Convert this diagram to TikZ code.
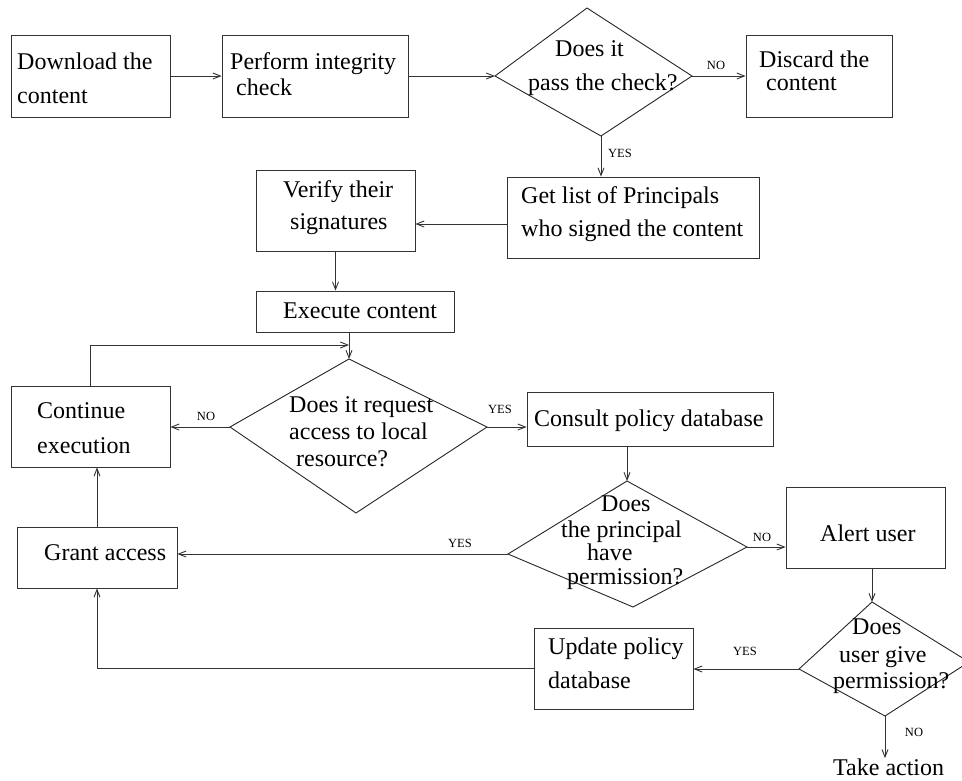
\documentclass[tikz,border=0pt]{standalone}
\usepackage{fontspec}
\setmainfont{Liberation Serif}
\usetikzlibrary{arrows.meta}
\tikzset{
  box/.style={draw=black!80, line width=0.9pt, rectangle, inner sep=0pt},
  txt/.style={anchor=base west, inner sep=0pt, font=\fontsize{24}{28}\selectfont},
  lbl/.style={inner sep=0pt, font=\fontsize{12.5}{14}\selectfont},
  arr/.style={draw=black!80, line width=0.9pt, -{Straight Barb[length=7.5pt,width=6pt]}},
  dia/.style={draw=black!85, line width=0.9pt, line join=miter}
}
\begin{document}
\begin{tikzpicture}[x=1pt,y=-1pt]
\useasboundingbox (0,0) rectangle (962,780);
% boxes
\node[box, minimum width=159pt, minimum height=82pt] (b1) at (90.5,76) {};
\node[box, minimum width=186pt, minimum height=82pt] (b2) at (315,76) {};
\node[box, minimum width=146pt, minimum height=82pt] (disc) at (819,76) {};
\node[box, minimum width=252pt, minimum height=81pt] (get) at (633,217.5) {};
\node[box, minimum width=159pt, minimum height=81pt] (ver) at (335.5,210.5) {};
\node[box, minimum width=198pt, minimum height=41pt] (exe) at (355,311.5) {};
\node[box, minimum width=159pt, minimum height=81pt] (cont) at (90.5,426.5) {};
\node[box, minimum width=246pt, minimum height=54pt] (cons) at (650,419) {};
\node[box, minimum width=159pt, minimum height=81pt] (alert) at (865.5,527.5) {};
\node[box, minimum width=159pt, minimum height=81pt] (upd) at (613.5,668.5) {};
\node[box, minimum width=160pt, minimum height=61pt] (grant) at (97,557.5) {};
% diamonds
\coordinate (d1l) at (495,76); \coordinate (d1t) at (587,8);
\coordinate (d1r) at (692,76); \coordinate (d1b) at (601,136);
\draw[dia] (d1l) -- (d1t) -- (d1r) -- (d1b) -- cycle;
\coordinate (d2l) at (230,427); \coordinate (d2t) at (349,359);
\coordinate (d2r) at (487,427); \coordinate (d2b) at (356,513);
\draw[dia] (d2l) -- (d2t) -- (d2r) -- (d2b) -- cycle;
\coordinate (d3l) at (508,554); \coordinate (d3t) at (627,481);
\coordinate (d3r) at (747,547); \coordinate (d3b) at (633,607);
\draw[dia] (d3l) -- (d3t) -- (d3r) -- (d3b) -- cycle;
\coordinate (d4l) at (799,669); \coordinate (d4t) at (872,602);
\coordinate (d4r) at (969,662); \coordinate (d4b) at (885,716);
\draw[dia] (d4l) -- (d4t) -- (d4r) -- (d4b) -- cycle;
% texts
\node[txt] (t1a) at (17,69) {Download the};
\node[txt] (t1b) at (17,103) {content};
\node[txt] (t2a) at (230,69) {Perform integrity};
\node[txt] (t2b) at (236,95) {check};
\node[txt] (t3a) at (555,56) {Does it};
\node[txt] (t3b) at (528,90) {pass the check?};
\node[txt] (t4a) at (759,67) {Discard the};
\node[txt] (t4b) at (766,90) {content};
\node[txt] (t5a) at (521,203) {Get list of Principals};
\node[txt] (t5b) at (521,236) {who signed the content};
\node[txt] (t6a) at (283,197) {Verify their};
\node[txt] (t6b) at (290,229) {signatures};
\node[txt] (t7) at (283,318) {Execute content};
\node[txt] (t8a) at (289,412) {Does it request};
\node[txt] (t8b) at (289,439) {access to local};
\node[txt] (t8c) at (296,466) {resource?};
\node[txt] (t9a) at (37,418) {Continue};
\node[txt] (t9b) at (37,453) {execution};
\node[txt] (t10) at (534,426) {Consult policy database};
\node[txt] (t11a) at (601,511) {Does};
\node[txt] (t11b) at (561,537) {the principal};
\node[txt] (t11c) at (587,560) {have};
\node[txt] (t11d) at (567,584) {permission?};
\node[txt] (t12) at (820,541) {Alert user};
\node[txt] (t13a) at (852,634) {Does};
\node[txt] (t13b) at (839,662) {user give};
\node[txt] (t13c) at (833,688) {permission?};
\node[txt] (t14a) at (548,654) {Update policy};
\node[txt] (t14b) at (548,688) {database};
\node[txt] (t15) at (44,560) {Grant access};
\node[txt] (take) at (833,775) {Take action};
% labels
\node[lbl] (n1) at (716,65) {NO};
\node[lbl] (y1) at (620,153) {YES};
\node[lbl] (n2) at (206,416) {NO};
\node[lbl] (y2) at (500,409) {YES};
\node[lbl] (y3) at (460,543) {YES};
\node[lbl] (n3) at (762,537) {NO};
\node[lbl] (y4) at (745,651) {YES};
\node[lbl] (n4) at (914,732) {NO};
% connectors
\draw[arr] (b1.east) -- (b2.west);
\draw[arr] (b2.east) -- (d1l);
\draw[arr] (d1r) -- (d1r -| disc.west);
\draw[arr] (d1b) -- (d1b |- get.north);
\draw[arr] (get.west |- 0,224) -- (ver.east |- 0,224);
\draw[arr] (ver.south) -- (ver.south |- exe.north);
\draw[arr] (d2t |- exe.south) -- (d2t);
\draw[arr] (cont.north) -- (cont.north |- 0,345) -- (d2t |- 0,345);
\draw[arr] (d2l) -- (d2l -| cont.east);
\draw[arr] (d2r) -- (d2r -| cons.west);
\draw[arr] (d3t |- cons.south) -- (d3t);
\draw[arr] (d3r) -- (d3r -| alert.west);
\draw[arr] (d3l) -- (d3l -| grant.east);
\draw[arr] (d4t |- alert.south) -- (d4t);
\draw[arr] (d4l) -- (d4l -| upd.east);
\draw[arr] (upd.west) -- (upd.west -| grant.south) -- (grant.south);
\draw[arr] (grant.north) -- (grant.north |- cont.south);
\draw[arr] (d4b) -- (d4b |- take.north);
\end{tikzpicture}
\end{document}
